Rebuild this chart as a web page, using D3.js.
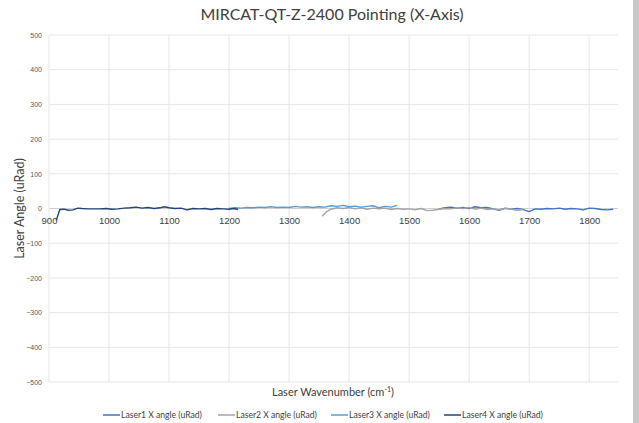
<!DOCTYPE html>
<html>
<head>
<meta charset="utf-8">
<script src="https://cdn.jsdelivr.net/npm/d3@7"></script>
<style>
  body { margin: 0; background: #fff; }
  svg { display: block; font-family: Lato, "Open Sans", sans-serif; }
</style>
</head>
<body>
<svg id="chart"></svg>
<script>
const xTicks = [900, 1000, 1100, 1200, 1300, 1400, 1500, 1600, 1700, 1800];
const yTicks = [-500, -400, -300, -200, -100, 0, 100, 200, 300, 400, 500];

const laser1X = [1550, 1560, 1570, 1580, 1590, 1600, 1610, 1620, 1630, 1640, 1650, 1660, 1670, 1680, 1690, 1700, 1710, 1720, 1730, 1740, 1750, 1760, 1770, 1780, 1790, 1800, 1810, 1820, 1830, 1840];
const laser1Y = [-1, 2, 4, 1, 3, 0, 5, 2, 3, -1, -5, 1, -2, 0, -3, -9, -1, -2, 0, -1, 1, -2, 0, -1, -4, 1, 0, -3, -4, -2];

const laser2X = [1355, 1362, 1370, 1380, 1390, 1400, 1410, 1420, 1430, 1440, 1450, 1460, 1470, 1480, 1490, 1500, 1510, 1520, 1530, 1540, 1550, 1560, 1570, 1580, 1590, 1600, 1610, 1620, 1630, 1640, 1650, 1660, 1670, 1680, 1690];
const laser2Y = [-22, -10, -2, 2, 0, 3, -1, 2, -2, 1, -1, 1, -3, 0, -2, -1, -4, 0, -6, -5, -2, 0, -1, 2, 0, 3, -2, 1, -3, -1, -4, 0, -2, -5, -3];

const laser3X = [1200, 1210, 1220, 1230, 1240, 1250, 1260, 1270, 1280, 1290, 1300, 1310, 1320, 1330, 1340, 1350, 1360, 1370, 1380, 1390, 1400, 1410, 1420, 1430, 1440, 1450, 1460, 1470, 1480];
const laser3Y = [0, 2, 1, 3, 2, 4, 3, 5, 3, 4, 3, 6, 4, 5, 3, 5, 4, 8, 6, 9, 5, 7, 4, 6, 8, 2, 6, 4, 9];

const laser4X = [912, 918, 925, 932, 940, 948, 955, 965, 975, 985, 995, 1005, 1015, 1025, 1035, 1045, 1055, 1065, 1075, 1085, 1092, 1100, 1110, 1120, 1130, 1140, 1150, 1160, 1170, 1180, 1190, 1200, 1208, 1215];
const laser4Y = [-35, -3, -2, -5, -4, 1, 0, -1, -1, -1, 0, -2, -1, 1, 2, 4, 1, 3, 0, 2, 5, 2, 0, 1, -4, 0, -1, 0, -3, 0, -1, -2, 0, -3];

const seriesNames = ["Laser1 X angle (uRad)", "Laser2 X angle (uRad)", "Laser3 X angle (uRad)", "Laser4 X angle (uRad)"];
const seriesColors = ["#4472C4", "#A5A5A5", "#5B9BD5", "#264478"];

const series = [
  laser1X.map((x, i) => ({ x: x, y: laser1Y[i] })),
  laser2X.map((x, i) => ({ x: x, y: laser2Y[i] })),
  laser3X.map((x, i) => ({ x: x, y: laser3Y[i] })),
  laser4X.map((x, i) => ({ x: x, y: laser4Y[i] })),
];

const width = 639;
const height = 423;
const margin = { top: 35, right: 21, bottom: 41, left: 49 };

const svg = d3.select("#chart").attr("width", width).attr("height", height);

// page edge on the right
svg.append("rect").attr("x", 633).attr("y", 0).attr("width", 6).attr("height", height).attr("fill", "#c8c8c8");

const xScale = d3.scaleLinear().domain([900, 1848]).range([margin.left, width - margin.right]);
const yScale = d3.scaleLinear().domain([-500, 500]).range([height - margin.bottom, margin.top]);

// Gridlines
svg.append("g")
  .selectAll("line")
  .data(yTicks)
  .join("line")
  .attr("x1", margin.left)
  .attr("x2", width - margin.right)
  .attr("y1", (d) => yScale(d))
  .attr("y2", (d) => yScale(d))
  .attr("stroke", (d) => (d === 0 ? "#d0d0d0" : "#e6e6e6"))
  .attr("stroke-width", 1);

svg.append("g")
  .selectAll("line")
  .data(xTicks)
  .join("line")
  .attr("x1", (d) => xScale(d))
  .attr("x2", (d) => xScale(d))
  .attr("y1", margin.top)
  .attr("y2", height - margin.bottom)
  .attr("stroke", "#e6e6e6")
  .attr("stroke-width", 1);

// Y axis labels
const yAxis = svg.append("g")
  .attr("transform", `translate(${margin.left},0)`)
  .call(d3.axisLeft(yScale).tickValues(yTicks).tickSize(0).tickPadding(7));
yAxis.select(".domain").remove();
yAxis.selectAll("text").attr("fill", "#595959").style("font-size", "7px");

// X axis labels at y = 0
const xAxis = svg.append("g")
  .attr("transform", `translate(0,${yScale(0)})`)
  .call(d3.axisBottom(xScale).tickValues(xTicks).tickFormat(d3.format("d")).tickSize(0).tickPadding(9));
xAxis.select(".domain").remove();
xAxis.selectAll("text").attr("fill", "#404040").style("font-size", "9.5px");

// Lines
const line = d3.line()
  .x((d) => xScale(d.x))
  .y((d) => yScale(d.y));

series.forEach((s, i) => {
  svg.append("path")
    .datum(s)
    .attr("fill", "none")
    .attr("stroke", seriesColors[i])
    .attr("stroke-width", 1.4)
    .attr("stroke-linejoin", "round")
    .attr("d", line);
});

// Title
svg.append("text")
  .attr("x", 332)
  .attr("y", 20)
  .attr("text-anchor", "middle")
  .attr("fill", "#404040")
  .style("font-size", "16px")
  .text("MIRCAT-QT-Z-2400 Pointing (X-Axis)");

// Axis titles
const xTitle = svg.append("text")
  .attr("x", 333)
  .attr("y", 396)
  .attr("text-anchor", "middle")
  .attr("fill", "#404040")
  .style("font-size", "11px");
xTitle.append("tspan").text("Laser Wavenumber (cm");
xTitle.append("tspan").attr("dy", -4).style("font-size", "7px").text("-1");
xTitle.append("tspan").attr("dy", 4).text(")");

svg.append("text")
  .attr("x", -yScale(0))
  .attr("y", 24)
  .attr("transform", "rotate(-90)")
  .attr("text-anchor", "middle")
  .attr("fill", "#404040")
  .style("font-size", "12.5px")
  .text("Laser Angle (uRad)");

// Legend
const legendX = [103, 218, 331, 444];
const legend = svg.append("g").attr("transform", "translate(0,415)");
seriesNames.forEach((name, i) => {
  const row = legend.append("g").attr("transform", `translate(${legendX[i]},0)`);
  row.append("line")
    .attr("x1", 0).attr("x2", 17)
    .attr("y1", 0).attr("y2", 0)
    .attr("stroke", seriesColors[i])
    .attr("stroke-width", 1.5);
  row.append("text")
    .attr("x", 18)
    .attr("y", 3)
    .attr("fill", "#404040")
    .style("font-size", "8.6px")
    .text(name);
});
</script>
</body>
</html>
